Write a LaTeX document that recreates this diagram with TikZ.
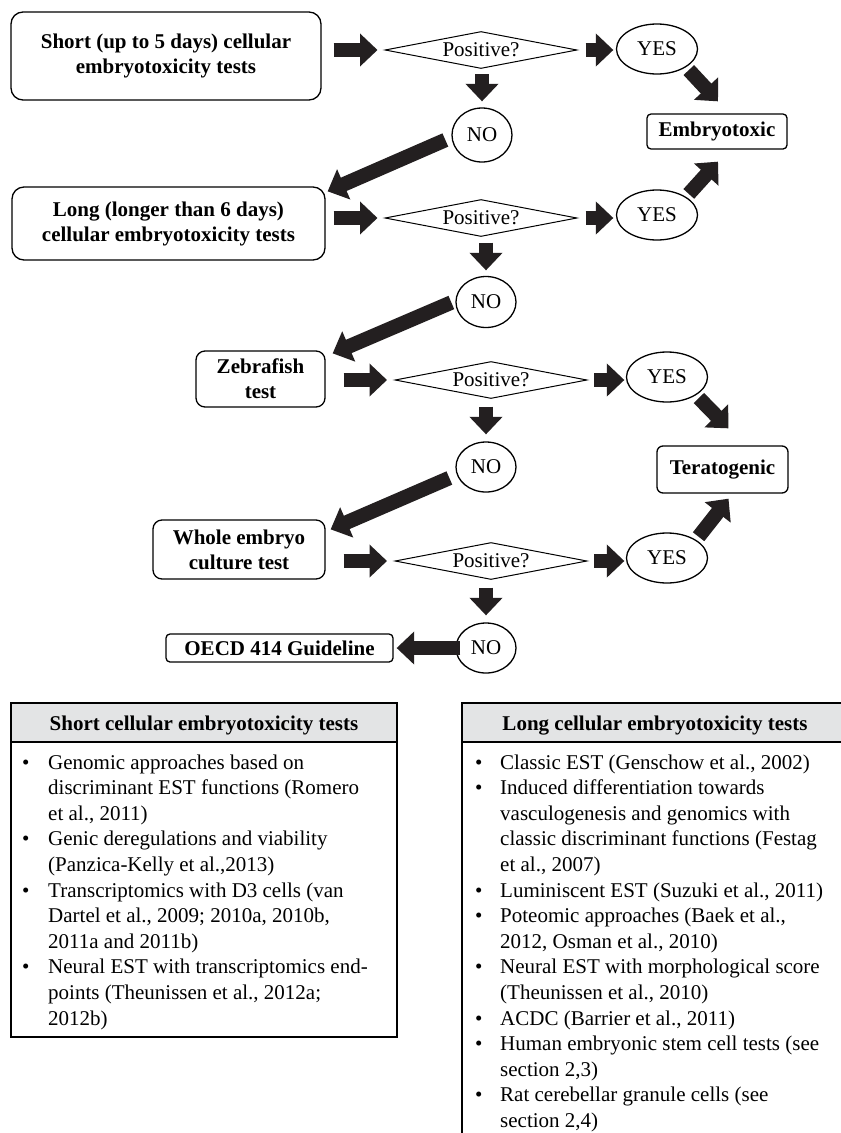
\documentclass[tikz,border=0pt]{standalone}
\usepackage{fontspec}
\setmainfont{Liberation Serif}
\usetikzlibrary{shapes.geometric,arrows.meta,calc}
\definecolor{ar}{HTML}{231F20}
\definecolor{hdr}{HTML}{E3E4E5}
\begin{document}
\begin{tikzpicture}[x=1pt,y=-1pt,
  every node/.style={font=\fontsize{21}{25}\selectfont, text=black, inner sep=0pt},
  tbox/.style={draw, line width=1.3pt, rounded corners=12pt, align=center, font=\fontsize{21}{25}\selectfont\bfseries},
  rbox/.style={draw, line width=1.3pt, rounded corners=4pt, align=center, font=\fontsize{21}{25}\selectfont\bfseries},
  dia/.style={draw, diamond, line width=1pt, aspect=5.2, minimum width=192pt, minimum height=37pt},
  ell/.style={draw, ellipse, line width=1.3pt},
  blk/.style={draw=ar, line width=14.5pt, -{Triangle[width=32pt,length=17.5pt]}},
  hline/.style={line width=1.8pt}
]
\useasboundingbox (0,0) rectangle (841,1133);
\fill[white] (0,0) rectangle (841,1133);

% flowchart nodes
\node[tbox, minimum width=310pt, minimum height=88pt] (box1) at (166,56) {Short (up to 5 days) cellular\\embryotoxicity tests};
\node[dia] (d1) at (481,50) {Positive?};
\node[ell, minimum width=81pt, minimum height=50pt] (y1) at (657,49) {YES};
\node[ell, minimum width=60pt, minimum height=54pt] (n1) at (482,135) {NO};
\node[rbox, minimum width=140pt, minimum height=35pt] (emb) at (717,131.5) {Embryotoxic};

\node[tbox, minimum width=313pt, minimum height=73pt] (box2) at (168.5,223.5) {Long (longer than 6 days)\\cellular embryotoxicity tests};
\node[dia] (d2) at (481,218) {Positive?};
\node[ell, minimum width=81pt, minimum height=50pt] (y2) at (657,215) {YES};
\node[ell, minimum width=60pt, minimum height=51pt] (n2) at (486,302) {NO};

\node[tbox, rounded corners=9pt, minimum width=129pt, minimum height=56pt] (zeb) at (260.5,379) {Zebrafish\\test};
\node[dia] (d3) at (491,380) {Positive?};
\node[ell, minimum width=81pt, minimum height=50pt] (y3) at (667,377) {YES};
\node[ell, minimum width=60pt, minimum height=50pt] (n3) at (486,467) {NO};
\node[rbox, rounded corners=6pt, minimum width=131pt, minimum height=47pt] (ter) at (722.5,469.5) {Teratogenic};

\node[tbox, rounded corners=9pt, minimum width=172pt, minimum height=59pt] (whole) at (239,549.5) {Whole embryo\\culture test};
\node[dia] (d4) at (491,561) {Positive?};
\node[ell, minimum width=81pt, minimum height=50pt] (y4) at (667,558) {YES};
\node[ell, minimum width=60pt, minimum height=50pt] (n4) at (486,648) {NO};
\node[rbox, minimum width=227pt, minimum height=28pt] (oecd) at (279.5,648) {OECD 414 Guideline};

% arrows
\draw[blk, shorten <=12pt, shorten >=7pt] (box1.east |- d1.west) -- (d1.west);
\draw[blk, shorten <=8pt, shorten >=2.5pt] (d1.east) -- (d1.east -| y1.west);
\draw[blk, shorten <=5pt, shorten >=6pt] (n1.north |- d1.south) -- (n1.north);
\draw[blk, shorten <=4pt] (y1.south east) -- ($(emb.north)+(1,-12)$);
\draw[blk, shorten <=4pt] (y2.north east) -- ($(emb.south)+(1,12)$);
\draw[blk] ($(n1.west)+(-6,5)$) -- ($(box2.north east)+(2,5)$);

\draw[blk, shorten <=8pt, shorten >=7pt] (box2.east |- d2.west) -- (d2.west);
\draw[blk, shorten <=8pt, shorten >=2.5pt] (d2.east) -- (d2.east -| y2.west);
\draw[blk, shorten <=5.5pt, shorten >=5.5pt] (n2.north |- d2.south) -- (n2.north);
\draw[blk] ($(n2.west)+(-4,0.5)$) -- ($(zeb.north east)+(7,3)$);

\draw[blk, shorten <=18pt, shorten >=7.5pt] (zeb.east |- d3.west) -- (d3.west);
\draw[blk, shorten <=6.5pt, shorten >=1.5pt] (d3.east) -- (d3.east -| y3.west);
\draw[blk, shorten <=7.5pt, shorten >=7pt] (n3.north |- d3.south) -- (n3.north);
\draw[blk, shorten <=4pt] (y3.south east) -- ($(ter.north)+(6,-17)$);
\draw[blk, shorten <=4pt] (y4.north east) -- ($(ter.south)+(6,5)$);
\draw[blk] ($(n3.west)+(-6,11)$) -- ($(whole.north east)+(5,10)$);

\draw[blk, shorten <=18pt, shorten >=7.5pt] (whole.east |- d4.west) -- (d4.west);
\draw[blk, shorten <=6.5pt, shorten >=1.5pt] (d4.east) -- (d4.east -| y4.west);
\draw[blk, shorten <=7.5pt, shorten >=7pt] (n4.north |- d4.south) -- (n4.north);
\draw[blk, shorten <=-5pt, shorten >=3pt] (n4.west) -- (oecd.east);

% tables
\fill[hdr] (11,703) rectangle (397,742);
\draw[hline] (11,703) rectangle (397,1037);
\draw[hline] (11,742) -- (397,742);
\fill[hdr] (462,703) rectangle (841,742);
\draw[hline] (841,703) -- (462,703) -- (462,1133);
\draw[hline] (462,742) -- (841,742);

\node[anchor=base, font=\fontsize{21}{25}\selectfont\bfseries] (lh) at (204,730) {Short cellular embryotoxicity tests};
\node[anchor=base, font=\fontsize{21}{25}\selectfont\bfseries] (rh) at (655,730) {Long cellular embryotoxicity tests};

\node[anchor=north west, align=left, font=\fontsize{21}{25.6}\selectfont] (lt) at (22,751) {%
\begin{tabular}{@{}p{26pt}@{}l@{}}
\textbullet & Genomic approaches based on\\
 & discriminant EST functions (Romero\\
 & et al., 2011)\\
\textbullet & Genic deregulations and viability\\
 & (Panzica-Kelly et al.,2013)\\
\textbullet & Transcriptomics with D3 cells (van\\
 & Dartel et al., 2009; 2010a, 2010b,\\
 & 2011a and 2011b)\\
\textbullet & Neural EST with transcriptomics end-\\
 & points (Theunissen et al., 2012a;\\
 & 2012b)
\end{tabular}};

\node[anchor=north west, align=left, font=\fontsize{21}{25.6}\selectfont] (rt) at (475,751) {%
\begin{tabular}{@{}p{25pt}@{}l@{}}
\textbullet & Classic EST (Genschow et al., 2002)\\
\textbullet & Induced differentiation towards\\
 & vasculogenesis and genomics with\\
 & classic discriminant functions (Festag\\
 & et al., 2007)\\
\textbullet & Luminiscent EST (Suzuki et al., 2011)\\
\textbullet & Poteomic approaches (Baek et al.,\\
 & 2012, Osman et al., 2010)\\
\textbullet & Neural EST with morphological score\\
 & (Theunissen et al., 2010)\\
\textbullet & ACDC (Barrier et al., 2011)\\
\textbullet & Human embryonic stem cell tests (see\\
 & section 2,3)\\
\textbullet & Rat cerebellar granule cells (see\\
 & section 2,4)
\end{tabular}};
\end{tikzpicture}
\end{document}
